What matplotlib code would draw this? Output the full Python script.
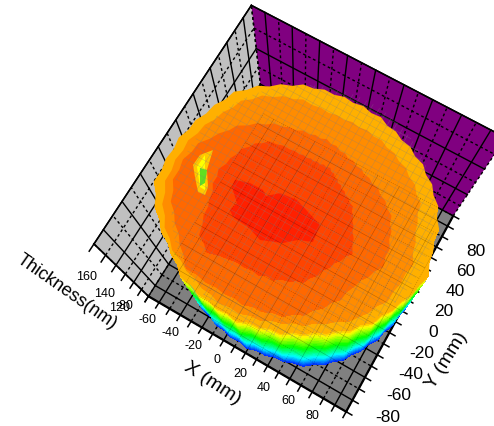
import numpy as np
import matplotlib
matplotlib.use('Agg')
import matplotlib.pyplot as plt
from matplotlib.colors import LinearSegmentedColormap, Normalize
from mpl_toolkits.mplot3d import proj3d
from mpl_toolkits.mplot3d.art3d import Poly3DCollection

plt.rcParams['font.family'] = ['Liberation Sans', 'DejaVu Sans']

x_labels = [-80, -60, -40, -20, 0, 20, 40, 60, 80]
y_labels = [-80, -60, -40, -20, 0, 20, 40, 60, 80]
z_labels = [120, 140, 160]

# radius (mm) of each thickness level, one value every 5 degrees
band_c = [35.3,32.9,32.5,30.6,31.0,28.4,28.0,25.9,25.9,24.3,24.8,23.6,24.5,23.7,25.0,24.5,26.1,24.8,25.5,24.5,25.6,25.1,26.6,26.5,28.5,29.0,31.7,33.3,36.9,39.2,43.5,44.4,47.3,48.0,50.8,50.8,52.8,53.4,56.4,55.6,57.2,56.4,58.0,59.0,62.4,64.1,67.9,67.0,68.2,62.8,59.7,57.1,56.6,55.0,55.6,53.6,54.7,52.7,52.9,52.0,52.9,50.0,49.4,46.8,46.5,44.9,45.5,44.7,46.2,41.9,39.9,36.4]
band_b = [61.2,58.3,57.9,55.5,55.6,52.2,51.2,48.2,47.7,44.7,44.2,42.1,42.4,40.7,41.4,40.1,41.2,40.5,42.3,41.9,43.9,43.1,44.8,44.7,47.1,47.4,50.2,51.6,55.4,56.6,60.2,61.9,66.1,67.1,70.5,72.7,77.4,78.1,81.2,81.1,83.4,81.9,82.9,80.8,81.1,79.9,81.2,81.3,83.8,80.0,78.7,75.9,75.5,73.8,74.6,72.8,73.5,72.1,73.1,70.9,71.2,68.4,68.0,65.6,65.8,62.6,61.8,60.7,62.0,61.9,64.1,61.4]
band_a = [78.5,75.0,74.5,72.5,72.8,72.3,74.2,71.9,72.1,69.7,69.8,67.5,67.7,65.7,66.2,64.2,64.7,63.0,63.9,62.7,64.0,63.9,66.3,67.5,71.2,71.7,74.7,75.5,78.8,78.8,81.3,80.1,81.4,81.1,83.4,83.3,85.8,85.3,87.3,87.1,89.4,88.0,89.2,87.5,88.4,86.5,87.1,84.4,84.3,82.2,82.6,80.8,81.6,79.4,79.7,77.6,78.1,76.0,76.5,75.3,76.7,75.5,76.8,76.8,79.3,78.9,79.5,78.8,80.6,78.6,78.6,77.3]
rim = [90.3,87.2,86.9,85.7,87.4,85.3,86.2,83.8,84.2,82.0,82.6,80.1,80.6,78.5,79.3,78.0,79.7,78.2,79.7,78.6,80.4,79.8,82.1,81.9,84.6,83.9,86.1,86.1,89.1,89.0,91.8,90.1,91.4,90.4,92.3,91.7,94.0,93.0,94.9,94.9,97.8,95.0,95.1,92.0,91.8,89.0,89.0,87.7,89.3,87.0,86.5,84.2,84.6,82.7,84.0,81.2,81.6,80.3,81.9,80.1,81.2,80.1,82.0,81.6,84.1,83.2,85.8,84.6,86.4,86.0,88.4,88.2]
foot = [91.6,89.0,88.4,87.2,88.9,86.8,87.7,85.3,85.7,83.5,84.1,81.6,82.1,80.0,80.8,79.5,81.2,79.7,81.2,80.1,81.9,81.3,83.6,83.4,86.1,85.4,87.6,87.6,90.6,90.5,93.3,91.6,92.9,91.9,93.8,93.2,95.5,94.5,96.4,96.4,99.3,96.5,96.6,93.5,93.3,90.5,90.5,89.2,90.3,88.0,88.6,86.5,87.0,85.4,86.6,84.8,85.5,84.9,86.6,86.7,88.8,87.9,89.3,88.4,89.9,88.4,89.3,88.2,89.9,88.8,90.5,90.1]
level_center, level_c, level_b, level_a, level_rim, level_foot = 174.5, 173, 171, 169, 167, 122

core_x = [-41.5, -42.2, -33.2, -23.9, -20.3, -13.8, -2.5, 7.1, 17.6, 19.1, 10.6, 3.7, -9.3, -19.8, -31.0, -34.9, -33.5]
core_y = [-16.4, -11.5, -8.6, -8.5, -10.9, -5.0, -3.6, -6.9, -10.4, -21.8, -25.2, -31.4, -36.7, -33.3, -32.5, -29.6, -23.6]
notch_outer_x = [-68.4, -73.9, -74.2, -68.8, -61.9, -57.0, -58.1, -64.7]
notch_outer_y = [2.3, -4.7, -12.7, -19.0, -26.5, -26.0, -20.5, -11.2]
notch_mid_x = [-71.1, -71.3, -62.5, -58.7, -66.8]
notch_mid_y = [-3.1, -12.6, -23.1, -23.2, -10.1]
notch_low_x = [-69.3, -62.9, -61.2, -64.6]
notch_low_y = [-12.2, -22.5, -19.2, -11.2]

fig = plt.figure(figsize=(4.94, 4.26), dpi=100)
# axes square found by fitting the box corners to the picture
s, cx, cy = 2312.1, 303.2, 227.6
side = s * 0.185
ax = fig.add_axes([(cx - 0.095 * s) / 494, (426 - cy - 0.095 * s) / 426, side / 494, side / 426], projection='3d')
ax.computed_zorder = False
ax.set_xlim(-90, 90)
ax.set_ylim(-90, 90)
ax.set_zlim(120, 180)
ax.view_init(75.119, -60.746, -0.619)
ax.set_proj_type('persp', focal_length=0.35)
ax.set_box_aspect((1, 1.001, 0.975))
ax.set_axis_off()
M = ax.get_proj()

rows = [np.zeros(72), band_c, band_b, band_a, rim]
row_z = [level_center, level_c, level_b, level_a, level_rim]
# steep edge of the wafer: extra mesh rows between rim and foot so the colours show
for z in np.arange(165, level_foot, -2.0):
    f = (level_rim - z) / (level_rim - level_foot)
    rows.append(np.array(rim) + f * (np.array(foot) - np.array(rim)))
    row_z.append(z)
rows.append(np.array(foot))
row_z.append(level_foot)

R = np.vstack(rows)
R = np.c_[R, R[:, 0]]
a = np.deg2rad(np.arange(0, 365, 5))
X = R * np.cos(a)
Y = R * np.sin(a)
Z = np.outer(row_z, np.ones(73))

cmap = LinearSegmentedColormap.from_list('rb', ['#0000ff', '#00ffff', '#00ff00', '#ffff00', '#ff0000'])
norm = Normalize(120, 178)
levels = np.arange(119, 176, 2)
surf = ax.plot_surface(X, Y, Z, cmap=cmap, norm=norm, rstride=1, cstride=1, shade=False, linewidth=0, antialiased=False, zorder=4)
surf.set_clip_on(False)
cs = ax.contourf(X, Y, Z, levels=levels, cmap=cmap, norm=norm, zorder=5, antialiased=True)
cs.set_clip_on(False)

ticks = np.arange(-90, 91, 10)
zticks = np.arange(120, 181, 10)
lo, hi = -90, 90
z0, z1 = 120, 180


def wall(xs, ys, zs, color):
    poly = Poly3DCollection([list(zip(xs, ys, zs))], facecolors=color, edgecolors='none', zorder=1)
    ax.add_collection3d(poly, autolim=False)
    poly.set_clip_on(False)


def seg(a, b, major=True, lw=1.0, zorder=2):
    ax.plot([a[0], b[0]], [a[1], b[1]], [a[2], b[2]], color='black', lw=lw,
            ls='-' if major else (0, (2, 2)), clip_on=False, zorder=zorder)


wall([lo, hi, hi, lo], [lo, lo, hi, hi], [z0] * 4, '#808080')
wall([lo, lo, lo, lo], [lo, hi, hi, lo], [z0, z0, z1, z1], '#c0c0c0')
wall([lo, hi, hi, lo], [hi, hi, hi, hi], [z0, z0, z1, z1], '#800080')

for t in ticks:
    maj = t % 20 == 0
    seg((t, lo, z0), (t, hi, z0), maj)
    seg((lo, t, z0), (hi, t, z0), maj)
    seg((t, hi, z0), (t, hi, z1), maj)
    seg((lo, t, z0), (lo, t, z1), maj)
    seg((t, lo, z0), (t, lo - 5, z0), True, 1.1, 3)
    seg((hi, t, z0), (hi + 5, t, z0), True, 1.1, 3)
for t in zticks:
    maj = t % 20 == 0
    seg((lo, lo, t), (lo, hi, t), maj)
    seg((lo, hi, t), (hi, hi, t), maj)
    seg((lo, lo, t), (lo, lo - 5, t), True, 1.1, 3)

seg((lo, lo, z0), (hi, lo, z0), True, 1.6, 3)
seg((hi, lo, z0), (hi, hi, z0), True, 1.6, 3)
seg((lo, lo, z0), (lo, lo, z1), True, 1.3, 3)
seg((lo, lo, z1), (lo, hi, z1), True, 1.1, 3)
seg((lo, hi, z1), (hi, hi, z1), True, 1.1, 3)

core = Poly3DCollection([[(p, q, 175) for p, q in zip(core_x, core_y)]], facecolors=[cmap(norm(176))], edgecolors='none', zorder=5.2)
ax.add_collection3d(core, autolim=False)
core.set_clip_on(False)

# grid of the floor shows through the translucent surface
for t in ticks:
    for p, q in [((t, lo, z0), (t, hi, z0)), ((lo, t, z0), (hi, t, z0))]:
        ax.plot([p[0], q[0]], [p[1], q[1]], [p[2], q[2]], color='black', lw=0.4, alpha=0.28,
                ls='-' if t % 20 == 0 else (0, (2, 2)), clip_on=False, zorder=6)

# faint mesh of the surface
for t in np.arange(-80, 81, 5):
    h = np.sqrt(84.0 ** 2 - t ** 2)
    ax.plot([t, t], [-h, h], [168, 168], color='#808080', lw=0.4, alpha=0.4, clip_on=False, zorder=6)
    ax.plot([-h, h], [t, t], [168, 168], color='#808080', lw=0.4, alpha=0.4, clip_on=False, zorder=6)

notches = [(notch_outer_x, notch_outer_y, '#ffc800'), (notch_mid_x, notch_mid_y, '#ffff00'), (notch_low_x, notch_low_y, '#60e020')]
for nx, ny, c in notches:
    poly = Poly3DCollection([[(p, q, 170) for p, q in zip(nx, ny)]], facecolors=c, edgecolors='none', zorder=5.5)
    ax.add_collection3d(poly, autolim=False)
    poly.set_clip_on(False)


def label(x, y, z, text, dx, dy, size):
    px, py, _ = proj3d.proj_transform(x, y, z, M)
    ax.annotate(text, xy=(px, py), xytext=(dx, dy), textcoords='offset pixels', ha='center', va='center',
                fontsize=size, annotation_clip=False, color='black', zorder=10)


for v in x_labels:
    label(v, lo, z0 + 14, str(v), -25, -13, 9)
for v in y_labels:
    label(hi + 30, v, z0 - 14, str(v), 6, 4, 12.5)
for v in z_labels:
    label(lo, lo, v, str(v), -29, -12, 9)

fig.text(212 / 494, 1 - 383 / 426, 'X (mm)', fontsize=14, rotation=-33, ha='center', va='center', rotation_mode='anchor')
fig.text(447 / 494, 1 - 361 / 426, 'Y (mm)', fontsize=14, rotation=58, ha='center', va='center', rotation_mode='anchor')
fig.text(67 / 494, 1 - 292 / 426, 'Thickness(nm)', fontsize=13, rotation=-35, ha='center', va='center', rotation_mode='anchor')

ax.set_xlim(-90, 90)
ax.set_ylim(-90, 90)
ax.set_zlim(120, 180)
fig.savefig('out.png', dpi=100)
